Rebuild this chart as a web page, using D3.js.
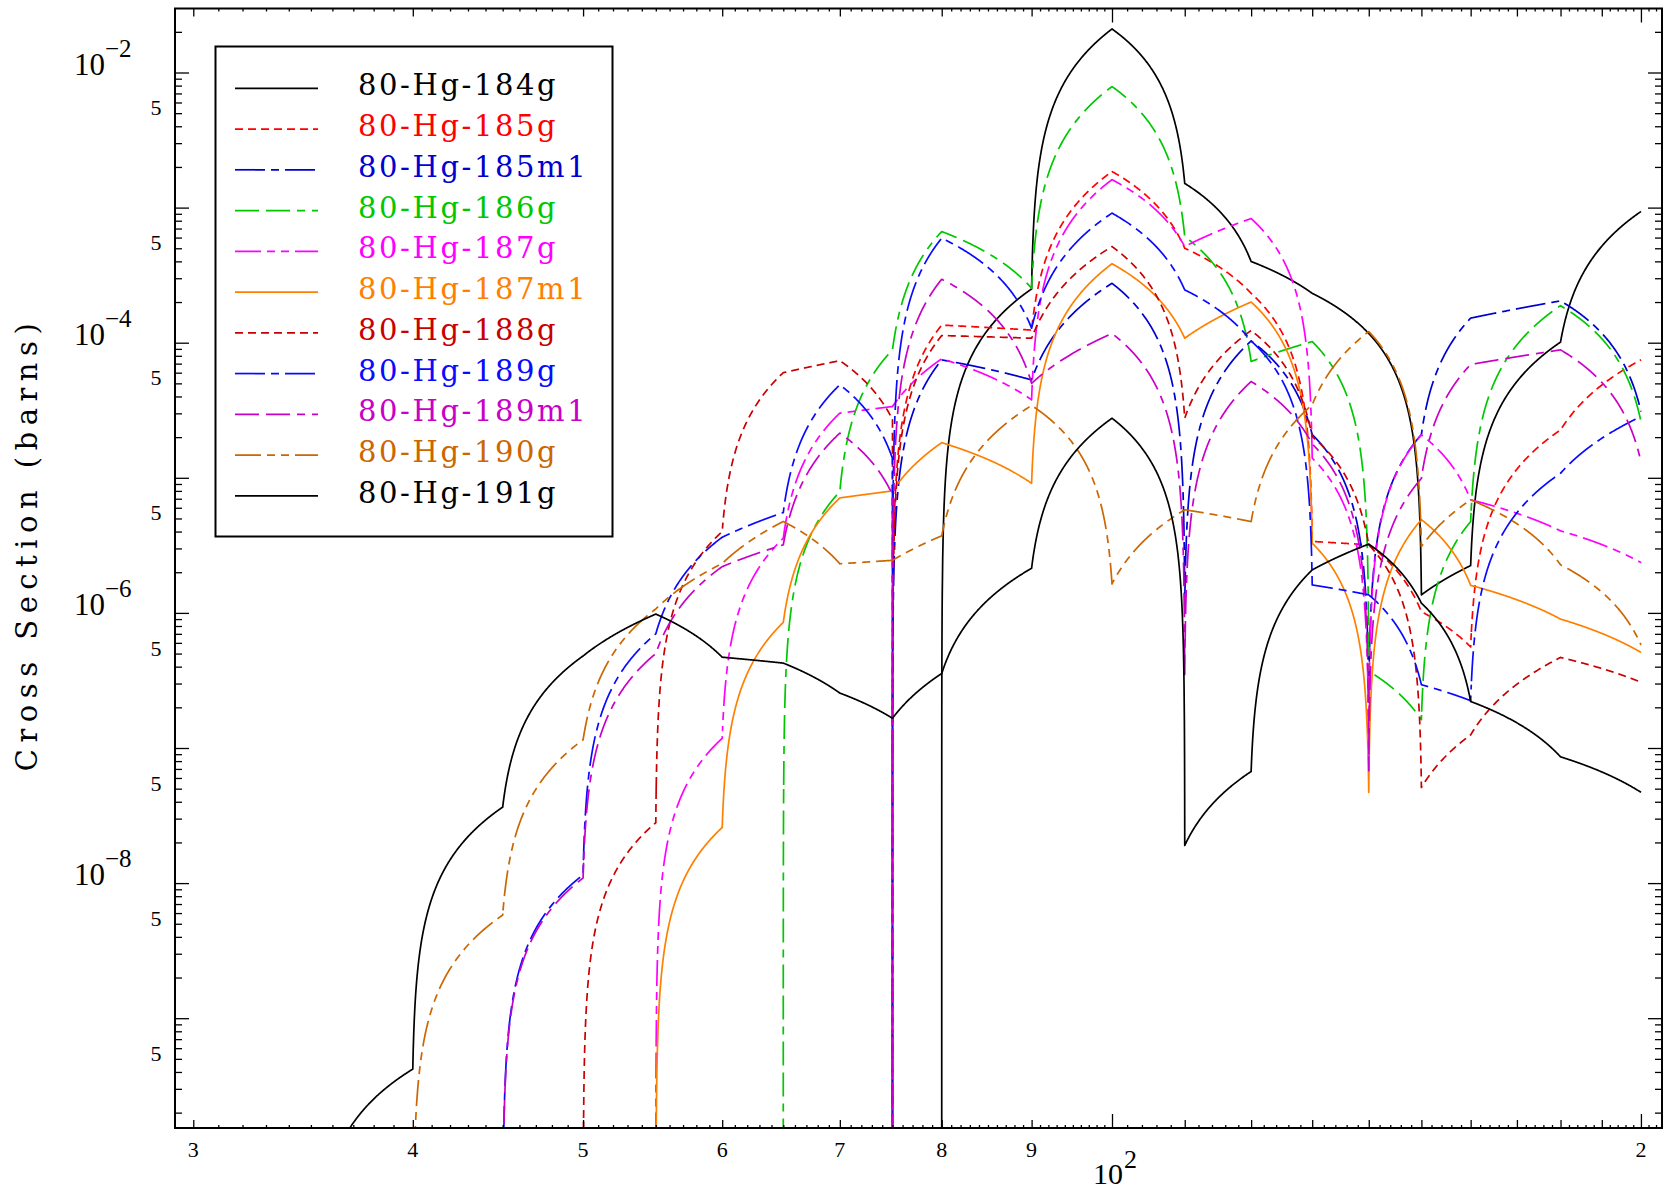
<!DOCTYPE html>
<html>
<head>
<meta charset="utf-8">
<script src="https://cdn.jsdelivr.net/npm/d3@7/dist/d3.min.js"></script>
<style>
  body { margin: 0; background: #fff; }
  svg { display: block; }
</style>
</head>
<body>
<svg id="chart"></svg>
<script>
// incident energy (MeV); 75 is listed twice: value reached from below, then value leaving upward
const energies = [35, 40, 45, 50, 55, 60, 65, 70, 75, 75, 80, 90, 100, 110, 120, 130, 140, 150, 160, 180, 200];

// cross sections (barns)
const hg184g  = [0, 0, 0, 0, 0, 0, 0, 0, 0, 0, 0, 2.5e-4, 2.1e-2, 1.51e-3, 3.99e-4, 2.32e-4, 1.17e-4, 1.36e-6, 2.24e-6, 1.01e-4, 9.35e-4];
const hg185g  = [0, 0, 0, 0, 0, 0, 0, 0, 0, 0, 1.35e-4, 1.24e-4, 1.85e-3, 5.0e-4, 2.32e-4, 3.38e-6, 3.19e-6, 1.02e-6, 5.6e-7, 2.26e-5, 7.46e-5];
const hg185m1 = [0, 0, 0, 0, 0, 0, 0, 0, 0, 0, 7.46e-5, 5.3e-5, 2.75e-4, 1.12e-6, 1.03e-4, 2.09e-5, 2.19e-7, 2.09e-5, 1.52e-4, 2.04e-4, 3.1e-5];
const hg186g  = [0, 0, 0, 0, 0, 0, 0, 7.9e-6, 8.85e-5, 8.85e-5, 6.65e-4, 2.53e-4, 7.87e-3, 6.1e-4, 7.26e-5, 1.02e-4, 3.7e-7, 1.62e-7, 4.74e-6, 1.88e-4, 2.61e-5];
const hg187g  = [0, 0, 0, 0, 0, 1.18e-7, 3.57e-6, 3.01e-5, 3.37e-5, 3.37e-5, 7.6e-5, 3.78e-5, 1.61e-3, 5.15e-4, 8.3e-4, 1.4e-5, 7.6e-8, 2.08e-5, 6.87e-6, 4.05e-6, 2.36e-6];
const hg187m1 = [0, 0, 0, 0, 0, 2.58e-8, 8.5e-7, 7.1e-6, 8.0e-6, 8.0e-6, 1.82e-5, 9.1e-6, 3.84e-4, 1.08e-4, 2.0e-4, 3.28e-6, 4.7e-8, 4.9e-6, 1.6e-6, 9.0e-7, 5.1e-7];
const hg188g  = [0, 0, 0, 0, 2.8e-8, 4.0e-6, 6.0e-5, 7.36e-5, 2.7e-5, 0, 1.13e-4, 1.08e-4, 5.15e-4, 2.76e-5, 1.23e-4, 2.02e-5, 3.19e-6, 5.1e-8, 1.25e-7, 4.68e-7, 3.07e-7];
const hg189g  = [0, 0, 0, 1.15e-8, 7.0e-7, 3.63e-6, 5.53e-6, 4.88e-5, 1.39e-5, 0, 5.94e-4, 1.28e-4, 9.1e-4, 2.46e-4, 1.03e-4, 1.61e-6, 1.36e-6, 2.94e-7, 2.24e-7, 1.08e-5, 2.84e-5];
const hg189m1 = [0, 0, 0, 1.09e-8, 5.0e-7, 2.2e-6, 3.19e-6, 2.14e-5, 7.5e-6, 0, 2.95e-4, 5.0e-5, 1.17e-4, 3.5e-7, 5.16e-5, 1.78e-5, 6.8e-8, 9.9e-6, 6.9e-5, 8.85e-5, 1.32e-5];
const hg190g  = [0, 0, 5.8e-9, 1.15e-7, 1.07e-6, 2.32e-6, 4.75e-6, 2.31e-6, 2.45e-6, 2.45e-6, 3.72e-6, 3.43e-5, 1.64e-6, 5.8e-6, 4.74e-6, 3.47e-5, 1.21e-4, 3.1e-6, 6.87e-6, 2.27e-6, 5.8e-7];
const hg191g  = [0, 4.2e-10, 3.65e-8, 4.8e-7, 9.8e-7, 4.7e-7, 4.25e-7, 2.55e-7, 1.66e-7, 1.66e-7, 3.56e-7, 2.14e-6, 2.76e-5, 1.9e-8, 6.7e-8, 2.08e-6, 3.23e-6, 1.18e-6, 2.21e-7, 8.6e-8, 4.7e-8];

const seriesNames = ["80-Hg-184g", "80-Hg-185g", "80-Hg-185m1", "80-Hg-186g", "80-Hg-187g", "80-Hg-187m1",
                     "80-Hg-188g", "80-Hg-189g", "80-Hg-189m1", "80-Hg-190g", "80-Hg-191g"];
const seriesValues = [hg184g, hg185g, hg185m1, hg186g, hg187g, hg187m1, hg188g, hg189g, hg189m1, hg190g, hg191g];

// axis labels
const yDecadeLabels = [-2, -4, -6, -8];
const yFiveLabels = [5e-3, 5e-4, 5e-5, 5e-6, 5e-7, 5e-8, 5e-9, 5e-10];
const xTickValues = [30, 40, 50, 60, 70, 80, 90, 200];
const xTickLabels = ["3", "4", "5", "6", "7", "8", "9", "2"];

// line styles
const colors = ["#000000", "#ff0000", "#0000d0", "#00c800", "#ff00ff", "#ff8000",
                "#c80000", "#0a0aff", "#c800c8", "#cc6600", "#000000"];
const dashes = ["none", "8,5", "30,6,8,6", "24,7,24,7,8,7", "26,6,8,6,8,6", "none",
                "8,5", "30,6,8,6", "24,7,24,7,8,7", "26,6,8,6,8,6", "none"];

const W = 1665, H = 1193;
const pLeft = 175, pRight = 1662, pTop = 8.5, pBottom = 1128;
const serif = "'Liberation Serif', 'DejaVu Serif', serif";
const wideSerif = "'DejaVu Serif', 'Liberation Serif', serif";

const svg = d3.select("#chart").attr("width", W).attr("height", H)
    .style("background", "#fff");

const x = d3.scaleLog().domain([29.29, 205.6]).range([pLeft, pRight]);
const y = d3.scaleLog().domain([1.539e-10, 2.977e-2]).range([pBottom, pTop]);

svg.append("defs").append("clipPath").attr("id", "plotclip")
    .append("rect").attr("x", pLeft).attr("y", pTop)
    .attr("width", pRight - pLeft).attr("height", pBottom - pTop);

// the curves are straight in linear space between the tabulated energies,
// so each segment is traced through the log scales
const ts = [];
for (let k = -8; k < -2; k += 0.2) ts.push(Math.pow(10, k));
for (let i = 1; i < 200; i++) ts.push(i / 200);
for (let k = -2.4; k >= -8; k -= 0.2) ts.push(1 - Math.pow(10, k));
ts.unshift(0); ts.push(1);

function tracePoints(vals) {
    const pts = [];
    for (let i = 0; i < energies.length - 1; i++) {
        const e0 = energies[i], e1 = energies[i + 1], v0 = vals[i], v1 = vals[i + 1];
        if (v0 <= 0 && v1 <= 0) { pts.push(null); continue; }
        ts.forEach(t => {
            const v = v0 + t * (v1 - v0);
            pts.push([x(e0 + t * (e1 - e0)), y(Math.max(v, 1e-13))]);
        });
    }
    return pts;
}

const line = d3.line().defined(d => d !== null);

const plot = svg.append("g").attr("clip-path", "url(#plotclip)");
seriesValues.forEach((vals, i) => {
    plot.append("path")
        .attr("d", line(tracePoints(vals)))
        .attr("fill", "none")
        .attr("stroke", colors[i])
        .attr("stroke-width", 1.7)
        .attr("stroke-dasharray", dashes[i])
        .attr("stroke-linejoin", "round");
});

// ---- axes ----
const yMajor = d3.range(-10, -1).map(e => Math.pow(10, e)).filter(v => v >= y.domain()[0] && v <= y.domain()[1]);
const yMinor = [];
d3.range(-10, -1).forEach(e => { for (let k = 2; k <= 9; k++) { const v = k * Math.pow(10, e); if (v >= y.domain()[0] && v <= y.domain()[1]) yMinor.push(v); } });

const xMinor = [];
for (let e = 30; e < 100; e += 1) if (e % 10) xMinor.push(e);
for (let e = 102; e < 205; e += 2) if (e % 10) xMinor.push(e);
const xMid = [30, 40, 50, 60, 70, 80, 90, 110, 120, 130, 140, 150, 160, 170, 180, 190];
const xMajor = [100, 200];

function ticks(g, axisFn, scale, values, size) {
    g.call(axisFn(scale).tickValues(values).tickSize(size).tickFormat(""))
     .call(s => s.select(".domain").remove())
     .call(s => s.selectAll("line").attr("stroke", "#000").attr("stroke-width", 1.3));
}

const axes = svg.append("g");
ticks(axes.append("g").attr("transform", `translate(${pLeft},0)`), d3.axisLeft, y, yMajor, -14);
ticks(axes.append("g").attr("transform", `translate(${pLeft},0)`), d3.axisLeft, y, yMinor, -7);
ticks(axes.append("g").attr("transform", `translate(${pRight},0)`), d3.axisRight, y, yMajor, -14);
ticks(axes.append("g").attr("transform", `translate(${pRight},0)`), d3.axisRight, y, yMinor, -7);
ticks(axes.append("g").attr("transform", `translate(0,${pBottom})`), d3.axisBottom, x, xMajor, -14);
ticks(axes.append("g").attr("transform", `translate(0,${pBottom})`), d3.axisBottom, x, xMid, -8);
ticks(axes.append("g").attr("transform", `translate(0,${pBottom})`), d3.axisBottom, x, xMinor, -3);
ticks(axes.append("g").attr("transform", `translate(0,${pTop})`), d3.axisTop, x, xMajor, -14);
ticks(axes.append("g").attr("transform", `translate(0,${pTop})`), d3.axisTop, x, xMid, -8);
ticks(axes.append("g").attr("transform", `translate(0,${pTop})`), d3.axisTop, x, xMinor, -3);

svg.append("rect").attr("x", pLeft).attr("y", pTop)
    .attr("width", pRight - pLeft).attr("height", pBottom - pTop)
    .attr("fill", "none").attr("stroke", "#000").attr("stroke-width", 2);

// y labels: 10^-n at even decades, "5" at half decades
yDecadeLabels.forEach(p => {
    const yy = y(Math.pow(10, p));
    const t = svg.append("text").attr("x", 74).attr("y", yy + 2)
        .attr("font-family", serif).attr("font-size", 31).attr("fill", "#000");
    t.append("tspan").text("10");
    t.append("tspan").attr("dx", 0).attr("dy", -18).attr("font-size", 25).text("−" + String(-p));
});
yFiveLabels.forEach(v => {
    svg.append("text").attr("x", 156).attr("y", y(v) + 2)
        .attr("text-anchor", "middle")
        .attr("font-family", serif).attr("font-size", 22).text("5");
});

// x labels
xTickValues.forEach((v, i) => {
    svg.append("text").attr("x", x(v)).attr("y", 1157)
        .attr("text-anchor", "middle")
        .attr("font-family", serif).attr("font-size", 22).text(xTickLabels[i]);
});
const xl = svg.append("text").attr("x", x(100) - 19).attr("y", 1184)
    .attr("font-family", serif).attr("font-size", 30);
xl.append("tspan").text("10");
xl.append("tspan").attr("dx", 1).attr("dy", -16).attr("font-size", 26).text("2");

// y title
svg.append("text")
    .attr("transform", "translate(37,544) rotate(-90)")
    .attr("text-anchor", "middle")
    .attr("font-family", wideSerif).attr("font-size", 29)
    .attr("letter-spacing", 6.5)
    .text("Cross Section (barns)");

// ---- legend ----
const lg = svg.append("g");
lg.append("rect").attr("x", 215.5).attr("y", 46.5).attr("width", 397).attr("height", 490)
    .attr("fill", "#fff").attr("stroke", "#000").attr("stroke-width", 2);
seriesNames.forEach((name, i) => {
    const ly = 88.3 + i * 40.75;
    lg.append("line").attr("x1", 235).attr("x2", 318).attr("y1", ly).attr("y2", ly)
        .attr("stroke", colors[i]).attr("stroke-width", 1.7).attr("stroke-dasharray", dashes[i]);
    lg.append("text").attr("x", 358).attr("y", ly + 7)
        .attr("font-family", wideSerif).attr("font-size", 29).attr("letter-spacing", 2.6)
        .attr("fill", colors[i]).text(name);
});
</script>
</body>
</html>
